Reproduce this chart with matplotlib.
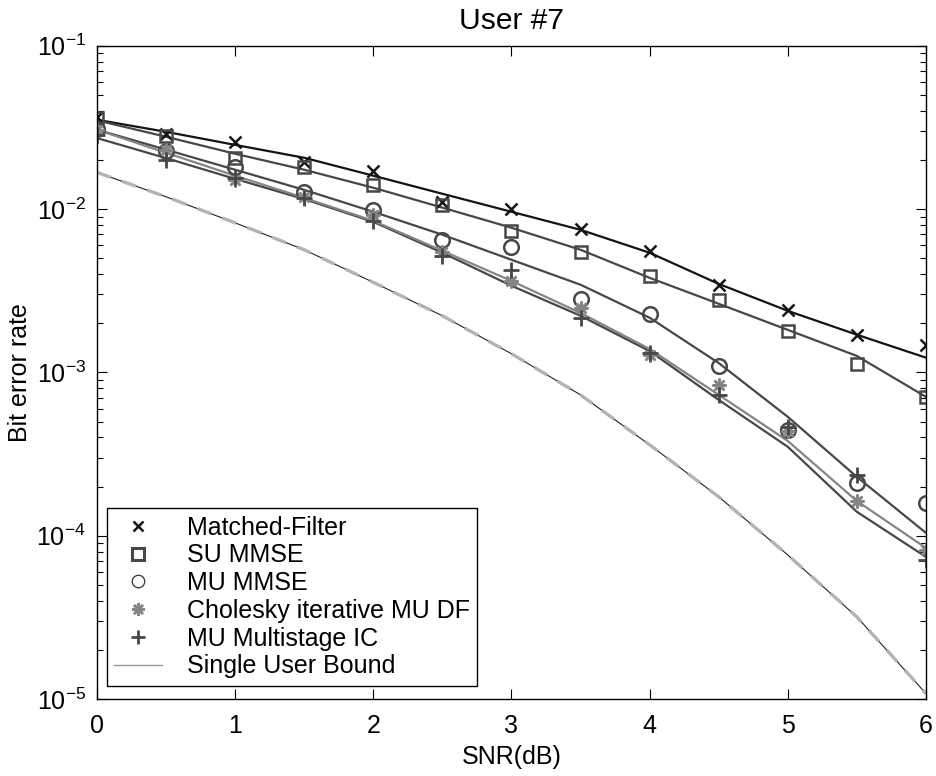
import matplotlib
matplotlib.use('Agg')
import matplotlib.pyplot as plt
from matplotlib.lines import Line2D
import numpy as np

plt.rcParams['font.family'] = ['Liberation Sans', 'DejaVu Sans']
plt.rcParams['font.size'] = 18

# --- DATA ---
snr = [0, 0.5, 1, 1.5, 2, 2.5, 3, 3.5, 4, 4.5, 5, 5.5, 6]

# solid curves
mf_line = [0.0352, 0.0297, 0.0247, 0.0206, 0.0160, 0.0124, 0.00962, 0.00746, 0.00540, 0.00348, 0.00238, 0.00170, 0.00123]
su_line = [0.0349, 0.0277, 0.0218, 0.0174, 0.0135, 0.0102, 0.00768, 0.00563, 0.00379, 0.00263, 0.00182, 0.00126, 0.000708]
mu_line = [0.0306, 0.0231, 0.0174, 0.0131, 0.00962, 0.00696, 0.00489, 0.00344, 0.00216, 0.00114, 0.000534, 0.000229, 0.000104]
chol_line = [0.0306, 0.0221, 0.0160, 0.0117, 0.00847, 0.00555, 0.00363, 0.00231, 0.00139, 0.000728, 0.000380, 0.000163, 0.0000841]
ms_line = [0.0272, 0.0205, 0.0153, 0.0115, 0.00835, 0.00540, 0.00339, 0.00222, 0.00135, 0.000678, 0.000350, 0.000140, 0.0000741]
bound = [0.01675, 0.01189, 0.00823, 0.00563, 0.00356, 0.00222, 0.00130, 0.000728, 0.000360, 0.000173, 0.0000762, 0.0000318, 0.0000108]

# simulated points
mf_pts = [0.0365, 0.0288, 0.0259, 0.0195, 0.0171, 0.0111, 0.0100, 0.00760, 0.00553, 0.00341, 0.00242, 0.00170, 0.00147]
su_pts = [0.0361, 0.0281, 0.0205, 0.0182, 0.0141, 0.0106, 0.00730, 0.00549, 0.00387, 0.00278, 0.00178, 0.00113, 0.000705]
mu_pts = [0.0309, 0.0226, 0.0182, 0.0128, 0.00980, 0.00649, 0.00585, 0.00282, 0.00228, 0.00110, 0.000445, 0.000211, 0.000158]
chol_pts = [0.0306, 0.0231, 0.0151, 0.0119, 0.00923, 0.00549, 0.00365, 0.00247, 0.00128, 0.000838, 0.000440, 0.000162, 0.0000818]
ms_pts = [0.0285, 0.0200, 0.0155, 0.0117, 0.00839, 0.00518, 0.00425, 0.00215, 0.00132, 0.000728, 0.000460, 0.000235, 0.0000710]

labels = ['Matched-Filter', 'SU MMSE', 'MU MMSE', 'Cholesky iterative MU DF',
          'MU Multistage IC', 'Single User Bound']

black = '#141414'
dark = '#474747'
mid = '#858585'
light = '#b3b3b3'

fig = plt.figure(figsize=(9.36, 7.76), dpi=100)
ax = fig.add_axes([0.1036, 0.0992, 0.8857, 0.8419])

# bound: thin dark line under light dashes
ax.plot(snr, bound, color='#222222', lw=0.8)
ax.plot(snr, bound, color=light, lw=2.4, dashes=[4.5, 3.5])

ax.plot(snr, mf_line, color=black, lw=1.6)
ax.plot(snr, su_line, color=dark, lw=1.6)
ax.plot(snr, mu_line, color=dark, lw=1.6)
ax.plot(snr, ms_line, color=dark, lw=1.6)
ax.plot(snr, chol_line, color=mid, lw=1.6)

ax.plot(snr, mf_pts, ls='none', marker='x', ms=8.5, mew=1.8, color=black)
ax.plot(snr, su_pts, ls='none', marker='s', ms=9, mew=1.8, mfc='none', mec=dark)
ax.plot(snr, mu_pts, ls='none', marker='o', ms=10.5, mew=1.8, mfc='none', mec=dark)
ax.plot(snr, chol_pts, ls='none', marker=(8, 2, 0), ms=10, mew=1.8, color=mid)
ax.plot(snr, ms_pts, ls='none', marker='+', ms=11, mew=2.0, color=dark)

ax.set_yscale('log')
ax.set_xlim(0, 6)
ax.set_ylim(1e-5, 1e-1)
ax.set_xticks(np.arange(0, 7, 1))
ax.tick_params(which='both', direction='in', top=True, right=True, color='black')
ax.tick_params(which='major', length=7, width=0.8)
ax.tick_params(axis='x', which='major', pad=11)
ax.tick_params(axis='y', which='major', pad=8)
ax.tick_params(which='minor', length=4, width=0.8)
ax.tick_params(axis='x', which='minor', bottom=False, top=False)
for s in ax.spines.values():
    s.set_linewidth(1.0)

ax.set_xlabel('SNR(dB)', labelpad=5)
ax.set_ylabel('Bit error rate', labelpad=3)
ax.set_title('User #7', pad=12)

handles = [
    Line2D([], [], ls='none', marker='x', ms=7, mew=1.8, color=black),
    Line2D([], [], ls='none', marker='s', ms=8, mew=2.2, mfc='none', mec=dark),
    Line2D([], [], ls='none', marker='o', ms=9, mew=0.9, mfc='none', mec='#333333'),
    Line2D([], [], ls='none', marker=(8, 2, 0), ms=9, mew=1.8, color=mid),
    Line2D([], [], ls='none', marker='+', ms=10, mew=2.0, color=dark),
    Line2D([], [], color='#999999', lw=1.0),
]
leg = ax.legend(handles, labels, loc='lower left', bbox_to_anchor=(0.012, 0.02),
                borderaxespad=0, fancybox=False, edgecolor='black', framealpha=1,
                handlelength=1.9, handletextpad=1.0, labelspacing=0.15,
                borderpad=0.3, fontsize=18)
leg.get_frame().set_linewidth(1.0)

fig.savefig('out.png', dpi=100)
